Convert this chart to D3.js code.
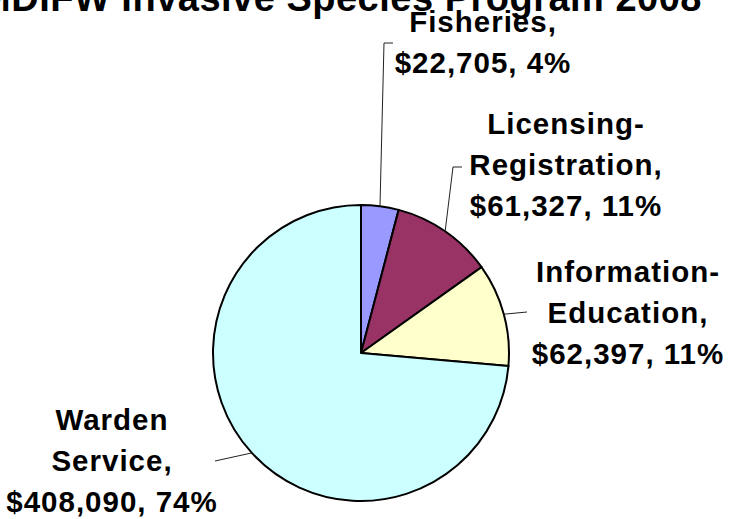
<!DOCTYPE html>
<html>
<head>
<meta charset="utf-8">
<script src="https://cdn.jsdelivr.net/npm/d3@7"></script>
<style>
  html, body { margin: 0; padding: 0; background: #fff; }
  svg { display: block; }
  text { font-family: "Liberation Sans", Arial, sans-serif; font-weight: bold; fill: #000; }
</style>
</head>
<body>
<svg id="chart" width="734" height="519"></svg>
<script>
// ---- data ----
const title = "MDIFW Invasive Species Program 2008";
const categories = ["Fisheries", "Licensing-Registration", "Information-Education", "Warden Service"];
const values = [22705, 61327, 62397, 408090];
const colors = ["#9999FF", "#993366", "#FFFFCC", "#CCFFFF"];
// label text lines (category name split as in the picture)
const labelNameLines = [["Fisheries,"], ["Licensing-", "Registration,"], ["Information-", "Education,"], ["Warden", "Service,"]];

// ---- layout ----
const W = 734, H = 519;
const cx = 361, cy = 353, R = 148;
const fontSize = 29.5, lineGap = 41;
// label block: center x and first baseline y
const labelPos = [
  { x: 483, y: 32 },
  { x: 566, y: 134 },
  { x: 628, y: 282 },
  { x: 112, y: 430 }
];
// leader line path after leaving the pie edge (outside points)
const leaderPts = [
  [[384, 43], [393, 43]],
  [[453, 167], [462, 167]],
  [[527, 312]],
  [[215, 461]]
];

const svg = d3.select("#chart");
const total = d3.sum(values);
const pctFmt = v => Math.round(v / total * 100) + "%";
const moneyFmt = d3.format("$,");

const pie = d3.pie().sort(null).value(d => d)(values);
const arc = d3.arc().innerRadius(0).outerRadius(R);

const g = svg.append("g").attr("transform", `translate(${cx},${cy})`);
g.selectAll("path.slice")
  .data(pie)
  .join("path")
  .attr("class", "slice")
  .attr("d", arc)
  .attr("fill", (d, i) => colors[i])
  .attr("stroke", "#000")
  .attr("stroke-width", 2)
  .attr("stroke-linejoin", "round");

// leader lines
const line = d3.line().curve(d3.curveLinear);
pie.forEach((d, i) => {
  const a = (d.startAngle + d.endAngle) / 2;
  const p0 = [cx + R * Math.sin(a), cy - R * Math.cos(a)];
  const pts = [p0].concat(leaderPts[i]);
  svg.append("path")
    .attr("d", line(pts))
    .attr("fill", "none")
    .attr("stroke", "#222")
    .attr("stroke-width", 1);
});

// labels
pie.forEach((d, i) => {
  const lines = labelNameLines[i].concat([moneyFmt(values[i]) + ", " + pctFmt(values[i])]);
  const t = svg.append("text")
    .attr("text-anchor", "middle")
    .style("font-size", fontSize + "px")
    .style("letter-spacing", "1px");
  lines.forEach((s, j) => {
    t.append("tspan")
      .attr("x", labelPos[i].x)
      .attr("y", labelPos[i].y + j * lineGap)
      .text(s);
  });
});

// title (partly cut off at the top, as in the picture)
svg.append("text")
  .attr("x", 702)
  .attr("y", 11)
  .attr("text-anchor", "end")
  .style("font-size", "38px")
  .style("letter-spacing", "0.5px")
  .text(title);
</script>
</body>
</html>
